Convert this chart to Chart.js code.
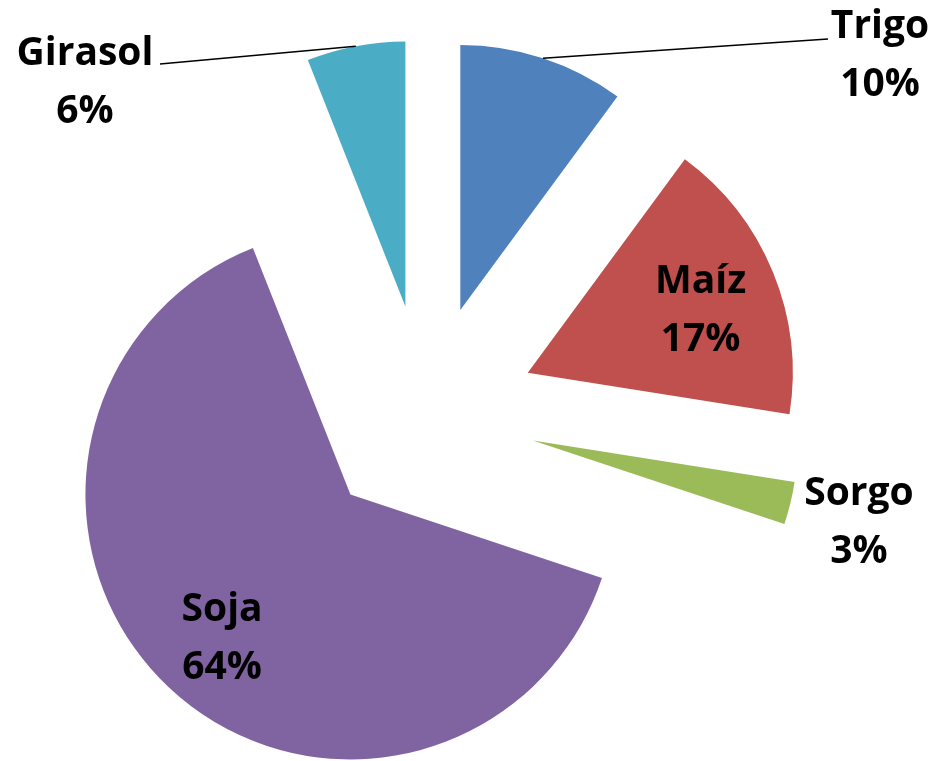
<!DOCTYPE html>
<html>
<head>
<meta charset="utf-8">
<script src="https://cdn.jsdelivr.net/npm/chart.js@4/dist/chart.umd.min.js"></script>
<style>
  html, body { margin: 0; padding: 0; background: #ffffff; }
  #wrap { width: 934px; height: 761px; position: relative; }
</style>
</head>
<body>
<div id="wrap"><canvas id="c" width="934" height="761"></canvas></div>
<script>
// ---- data ----
const categories = ['Trigo', 'Maíz', 'Sorgo', 'Soja', 'Girasol'];
const shares = [10.1, 17.4, 2.6, 63.9, 6.0];
const colors = ['#4F81BD', '#C0504D', '#9BBB59', '#8064A2', '#4BACC6'];

// ---- style ----
const EXPLODE = 110;
const RADIUS = 265;
const FONT = 'bold 39px "Open Sans", Lato, sans-serif';
const LINE_GAP = 58;
// label style: inside (radial fraction) or outside (fixed text centre + leader line end)
const labelStyle = {
  'Trigo':   { outside: true, x: 880, y: 53, line: [828, 39] },
  'Maíz':    { outside: false, f: 0.705, dy: 6 },
  'Sorgo':   { outside: true, x: 859, y: 520, line: null },
  'Soja':    { outside: false, f: 0.705, dy: 6 },
  'Girasol': { outside: true, x: 85, y: 80, line: [160, 64] }
};

function midAngle(a) { return (a.startAngle + a.endAngle) / 2; }

const explodePlugin = {
  id: 'explode',
  beforeDatasetDraw(chart, args) {
    const ctx = chart.ctx;
    args.meta.data.forEach(arc => {
      const m = midAngle(arc);
      ctx.save();
      ctx.translate(Math.cos(m) * EXPLODE, Math.sin(m) * EXPLODE);
      arc.draw(ctx, chart.chartArea);
      ctx.restore();
    });
    return false;
  }
};

const labelPlugin = {
  id: 'labels',
  afterDraw(chart) {
    const ctx = chart.ctx;
    const meta = chart.getDatasetMeta(0);
    const total = shares.reduce((s, v) => s + v, 0);
    ctx.save();
    ctx.font = FONT;
    ctx.fillStyle = '#000';
    ctx.textAlign = 'center';
    ctx.textBaseline = 'alphabetic';
    meta.data.forEach((arc, i) => {
      const name = categories[i];
      const st = labelStyle[name];
      const m = midAngle(arc);
      const ax = arc.x + Math.cos(m) * EXPLODE;
      const ay = arc.y + Math.sin(m) * EXPLODE;
      let cx, cy;
      if (st.outside) {
        cx = st.x; cy = st.y;
        if (st.line) {
          const px = ax + Math.cos(m) * arc.outerRadius;
          const py = ay + Math.sin(m) * arc.outerRadius;
          ctx.beginPath();
          ctx.strokeStyle = '#000';
          ctx.lineWidth = 1.5;
          ctx.moveTo(px, py);
          ctx.lineTo(st.line[0], st.line[1]);
          ctx.stroke();
        }
      } else {
        cx = ax + Math.cos(m) * arc.outerRadius * st.f;
        cy = ay + Math.sin(m) * arc.outerRadius * st.f + (st.dy || 0);
      }
      const pct = Math.round(shares[i] / total * 100) + '%';
      const b1 = cy - LINE_GAP / 2 + 14;
      ctx.fillText(name, cx, b1);
      ctx.fillText(pct, cx, b1 + LINE_GAP);
    });
    ctx.restore();
  }
};

new Chart(document.getElementById('c'), {
  type: 'pie',
  data: {
    labels: categories,
    datasets: [{
      data: shares,
      backgroundColor: colors,
      borderWidth: 0
    }]
  },
  options: {
    responsive: false,
    animation: false,
    radius: RADIUS,
    layout: { padding: { left: 0, right: 82, top: 68, bottom: 0 } },
    plugins: {
      legend: { display: false },
      tooltip: { enabled: false }
    }
  },
  plugins: [explodePlugin, labelPlugin]
});
</script>
</body>
</html>
